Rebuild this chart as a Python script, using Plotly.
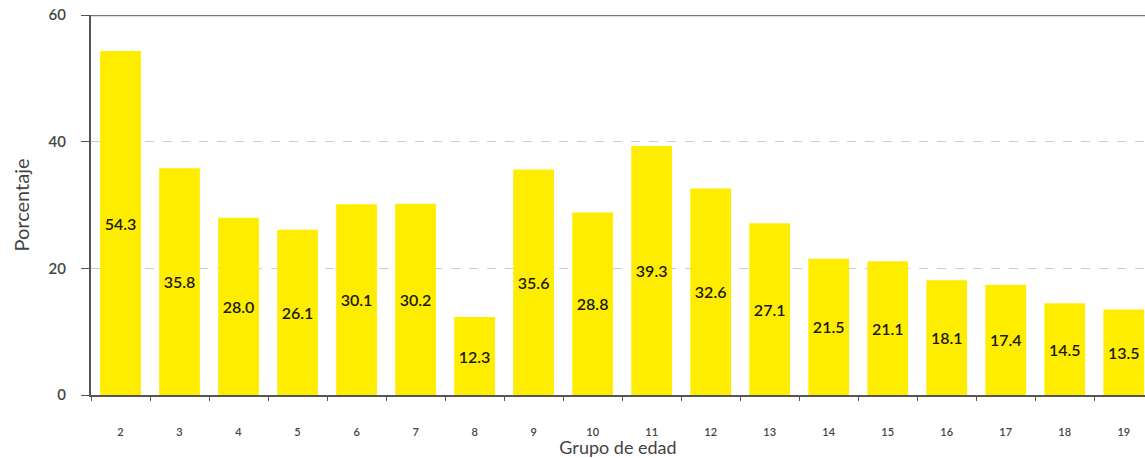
import plotly.graph_objects as go

grupos = [str(g) for g in range(2, 20)]
porcentaje = [54.3, 35.8, 28.0, 26.1, 30.1, 30.2, 12.3, 35.6, 28.8,
              39.3, 32.6, 27.1, 21.5, 21.1, 18.1, 17.4, 14.5, 13.5]
etiquetas = [f"{v:.1f}" for v in porcentaje]

fig = go.Figure(go.Bar(
    x=grupos,
    y=porcentaje,
    text=etiquetas,
    textposition="inside",
    insidetextanchor="middle",
    textangle=0,
    textfont=dict(family="Lato", size=16, color="#1a1a1a", weight=600),
    marker=dict(color="#FFED00", line=dict(width=0)),
    width=0.69,
))

# dark frame line along the top of the value range
fig.add_shape(type="line", xref="paper", yref="y", x0=0, x1=1, y0=60, y1=60,
              line=dict(color="#777777", width=2.5), layer="above")

fig.update_layout(
    width=1145, height=458,
    margin=dict(l=91, r=0, t=15, b=63),
    paper_bgcolor="white", plot_bgcolor="white",
    showlegend=False,
    font=dict(family="Lato", color="#444444"),
    xaxis=dict(
        type="category",
        range=[-0.5, 17.36],
        showline=True, linecolor="#555555", linewidth=2,
        ticks="outside", tickson="boundaries", ticklen=4, tickcolor="#555555",
        tickfont=dict(size=11, color="#444444", weight=600),
        ticklabelstandoff=26,
        showgrid=False,
        title=dict(text="Grupo de edad", font=dict(size=18, color="#444444"), standoff=0),
    ),
    yaxis=dict(
        range=[0, 60],
        tickvals=[0, 20, 40, 60],
        showline=True, linecolor="#555555", linewidth=2,
        ticks="outside", ticklen=8, tickcolor="#555555",
        tickfont=dict(size=15, color="#444444", weight=600),
        ticklabelstandoff=12,
        showgrid=True, gridcolor="#cccccc", griddash="dash", gridwidth=1,
        zeroline=False,
        title=dict(text="Porcentaje", font=dict(size=20, color="#444444"), standoff=14),
    ),
)

fig.write_html("out.html")
